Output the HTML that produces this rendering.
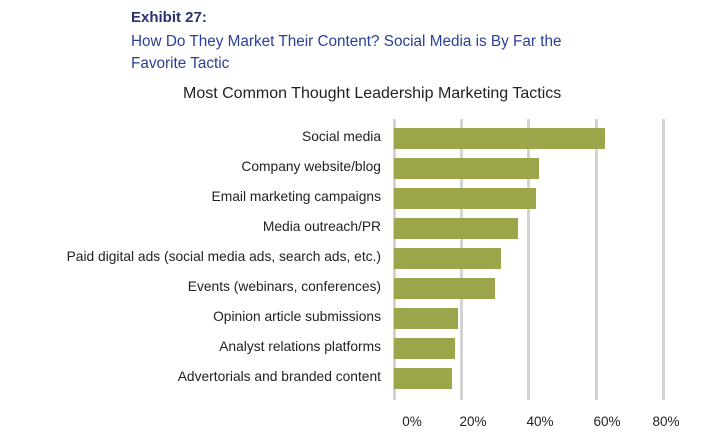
<!DOCTYPE html>
<html><head><style>
body{margin:0;width:719px;height:438px;background:#fff;font-family:"Liberation Sans",sans-serif;position:relative;overflow:hidden}
.a{position:absolute;white-space:nowrap}
.g{position:absolute;top:119px;height:281px;width:3px;background:#d3d3d3}
.b{position:absolute;left:394px;height:21px;background:#9da54a}
.l{position:absolute;right:338px;font-size:13.8px;color:#222;white-space:nowrap;line-height:21px}
.t{position:absolute;top:414px;font-size:13.5px;color:#222;width:40px;text-align:center}
</style></head><body>
<div class="a" style="left:131px;top:9px;font-size:15px;font-weight:bold;color:#2b3070">Exhibit 27:</div>
<div class="a" style="left:131px;top:31px;font-size:15.3px;color:#2a3f96;line-height:22px">How Do They Market Their Content? Social Media is By Far the<br>Favorite Tactic</div>
<div class="a" style="left:183px;top:85px;font-size:16px;color:#222">Most Common Thought Leadership Marketing Tactics</div>
<div class="g" style="left:393px"></div><div class="g" style="left:460px"></div><div class="g" style="left:527px"></div><div class="g" style="left:595px"></div><div class="g" style="left:662px"></div>
<div class="b" style="top:128px;width:211px"></div>
<div class="b" style="top:158px;width:145px"></div>
<div class="b" style="top:188px;width:142px"></div>
<div class="b" style="top:218px;width:124px"></div>
<div class="b" style="top:248px;width:107px"></div>
<div class="b" style="top:278px;width:101px"></div>
<div class="b" style="top:308px;width:64px"></div>
<div class="b" style="top:338px;width:61px"></div>
<div class="b" style="top:368px;width:58px"></div>
<div class="l" style="top:126px">Social media</div>
<div class="l" style="top:156px">Company website/blog</div>
<div class="l" style="top:186px">Email marketing campaigns</div>
<div class="l" style="top:216px">Media outreach/PR</div>
<div class="l" style="top:246px">Paid digital ads (social media ads, search ads, etc.)</div>
<div class="l" style="top:276px">Events (webinars, conferences)</div>
<div class="l" style="top:306px">Opinion article submissions</div>
<div class="l" style="top:336px">Analyst relations platforms</div>
<div class="l" style="top:366px">Advertorials and branded content</div>
<div class="t" style="left:392px">0%</div>
<div class="t" style="left:453px">20%</div>
<div class="t" style="left:520px">40%</div>
<div class="t" style="left:587px">60%</div>
<div class="t" style="left:646px">80%</div>
</body></html>
